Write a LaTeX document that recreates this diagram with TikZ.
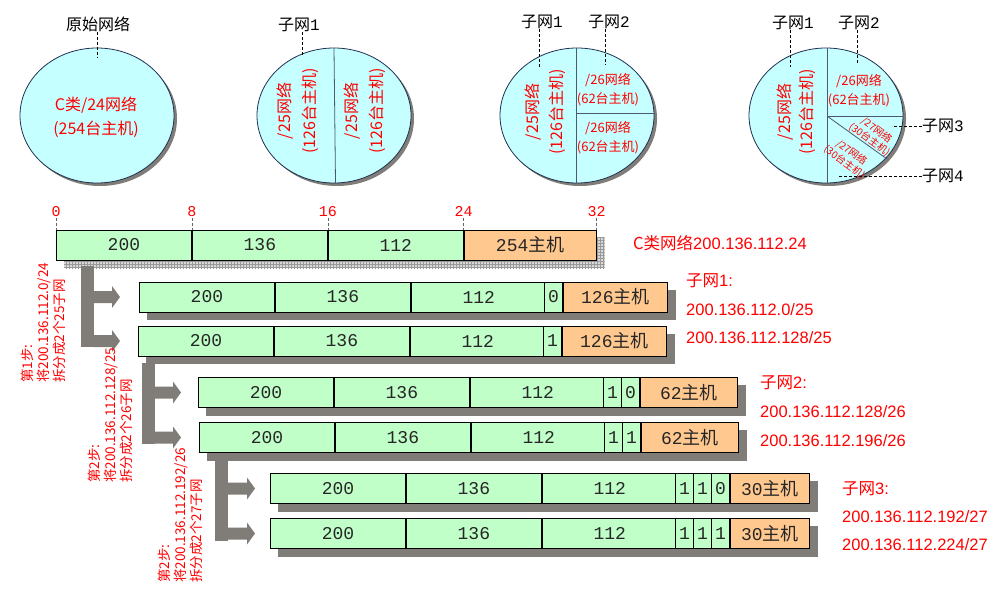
\documentclass[tikz,border=0pt]{standalone}
\usepackage{fontspec}
\setmainfont{Liberation Sans}
\newfontfamily\cjk{Noto Sans CJK SC}
\newfontfamily\mono{Liberation Mono}
\usetikzlibrary{positioning,calc,patterns,backgrounds}

\definecolor{bargreen}{RGB}{192,255,200}
\definecolor{hostorange}{RGB}{255,200,142}
\definecolor{shadowgray}{RGB}{128,124,120}
\definecolor{netcyan}{RGB}{198,255,255}
\definecolor{rimblue}{RGB}{30,48,80}
\definecolor{labred}{RGB}{255,0,0}

\tikzset{
  oct/.style={draw, line width=0.9pt, fill=bargreen, minimum width=135pt, minimum height=30pt,
    inner sep=0pt, anchor=west, text=black!85, font=\mono\fontsize{18}{18}\selectfont},
  bit/.style={oct, minimum width=18pt},
  hostcell/.style={oct, fill=hostorange},
  tick/.style={text=labred, inner sep=1pt, font=\mono\fontsize{15}{15}\selectfont},
  note/.style={text=labred, anchor=west, inner sep=0pt, font=\fontsize{16.5}{16.5}\selectfont},
  steplab/.style={text=labred, rotate=90, anchor=north west, align=left, inner sep=0pt,
    font=\cjk\fontsize{13.5}{16}\selectfont},
  net/.style={draw=rimblue, line width=0.8pt, fill=netcyan},
  divider/.style={draw=rimblue!80, line width=0.8pt},
  intext/.style={text=labred, align=center, inner sep=0pt, font=\cjk\fontsize{16}{24}\selectfont},
  smalltext/.style={intext, font=\cjk\fontsize{13}{19}\selectfont},
  tinytext/.style={intext, font=\cjk\fontsize{10}{12}\selectfont},
  toplab/.style={inner sep=0pt, font=\cjk\fontsize{16}{16}\selectfont},
  lead/.style={dash pattern=on 3pt off 2pt, line width=0.6pt},
  tickline/.style={lead, black!60},
}

\begin{document}
\begin{tikzpicture}[x=1pt, y=-1pt]
    \useasboundingbox (0,0) rectangle (998,591);

    % Networks drawn as ellipses
    \foreach \cx in {97,334,577,826} {
        \fill[shadowgray] (\cx+3,118.5) ellipse [x radius=77pt, y radius=67.5pt];
        \draw[net] (\cx,115.5) ellipse [x radius=77pt, y radius=67.5pt];
    }
    \draw[divider] (334,48) -- (335.5,183);
    \draw[divider] (576,48) -- (576,183);
    \draw[divider] (576,113) -- (653.5,113);
    \draw[divider] (827,48) -- (827,183);
    \draw[divider] (827,116) -- (903,116);
    \draw[divider] (827,116) -- (887,159);

    % Texts inside the ellipses
    \node[intext] (c1) at (96,117) {C类/24网络\\(254台主机)};
    \node[intext, rotate=90, font=\cjk\fontsize{16}{25}\selectfont] (c2a) at (297.5,111) {/25网络\\(126台主机)};
    \node[intext, rotate=90, font=\cjk\fontsize{16}{25}\selectfont] (c2b) at (364.5,111) {/25网络\\(126台主机)};
    \node[intext, rotate=90] (c3a) at (545,112) {/25网络\\(126台主机)};
    \node[smalltext] (c3b) at (608,90) {/26网络\\(62台主机)};
    \node[smalltext] (c3c) at (608,138) {/26网络\\(62台主机)};
    \node[intext, rotate=90, font=\cjk\fontsize{16}{22}\selectfont] (c4a) at (796,112) {/25网络\\(126台主机)};
    \node[smalltext] (c4b) at (859,90.5) {/26网络\\(62台主机)};
    \node[tinytext, rotate=-36] (c4c) at (873,135) {/27网络\\(30台主机)};
    \node[tinytext, rotate=-36] (c4d) at (848,157.5) {/27网络\\(30台主机)};

    % Labels above the ellipses
    \node[toplab] (orig) at (98,24) {原始网络};
    \node[toplab] (sub21) at (299,25) {子网{\mono 1}};
    \node[toplab] (sub31) at (542,22) {子网{\mono 1}};
    \node[toplab] (sub32) at (609,22) {子网{\mono 2}};
    \node[toplab] (sub41) at (793,23) {子网{\mono 1}};
    \node[toplab] (sub42) at (859,23) {子网{\mono 2}};
    \node[toplab, anchor=west] (sub43) at (922,126) {子网{\mono 3}};
    \node[toplab, anchor=west] (sub44) at (922,176) {子网{\mono 4}};
    \coordinate (origend) at (97,58);
    \coordinate (sub21end) at (302,57);
    \coordinate (sub31end) at (539,67);
    \coordinate (sub32end) at (605,65);
    \coordinate (sub41end) at (790,67);
    \coordinate (sub42end) at (857,65);
    \coordinate (sub43end) at (892,126);
    \coordinate (sub44end) at (838,176);
    \foreach \l in {orig,sub21,sub31,sub32,sub41,sub42}
        \draw[lead] (\l.south -| \l end) -- (\l end);
    \draw[lead] (sub43.west) -- (sub43end);
    \draw[lead] (sub44.west) -- (sub44end);

    % Class C address
    \node[oct] (r0-1) at (56,245) {200};
    \node[oct, right=0pt of r0-1] (r0-2) {136};
    \node[oct, right=0pt of r0-2] (r0-3) {112};
    \node[hostcell, minimum width=132pt, right=0pt of r0-3] (r0-h) {254{\cjk 主机}};
    \foreach \t/\a in {0/r0-1.north west, 8/r0-2.north west, 16/r0-3.north west,
                       24/r0-h.north west, 32/r0-h.north east} {
        \node[tick, above=12pt of \a] (t\t) {\t};
        \draw[tickline] (t\t.south) -- (\a);
    }
    \node[note] (n0) at (633,243) {{\cjk C类网络}200.136.112.24};

    % Subnet addresses
    \foreach \r/\x/\y/\bits/\nb/\hn/\hw in {1/139/297/0/1/126/104, 2/138/341/1/1/126/104,
                                            3/198/392.5/{1,0}/2/62/97, 4/199/437.5/{1,1}/2/62/97,
                                            5/270/488.5/{1,1,0}/3/30/79, 6/270/533.5/{1,1,1}/3/30/79} {
        \node[oct] (r\r-1) at (\x,\y) {200};
        \node[oct, right=0pt of r\r-1] (r\r-2) {136};
        \node[oct, right=0pt of r\r-2] (r\r-3) {112};
        \foreach \b [count=\i] in \bits
            \node[bit] (r\r-b\i) at (\x+405+18*\i-18,\y) {\b};
        \node[hostcell, minimum width=\hw pt, right=0pt of r\r-b\nb] (r\r-h) {\hn{\cjk 主机}};
    }

    % Shadows of the address bars
    \begin{scope}[on background layer]
        \fill[white] (0,0) rectangle (998,591);
        \fill[gray!30] ($(r0-1.north west)+(8,8)$) rectangle ($(r0-h.south east)+(8,8)$);
        \fill[pattern=grid, pattern color=gray!80] ($(r0-1.north west)+(8,8)$) rectangle ($(r0-h.south east)+(8,8)$);
        \foreach \r in {1,...,6}
            \fill[shadowgray] ($(r\r-1.north west)+(8,8)$) rectangle ($(r\r-h.south east)+(8,8)$);
    \end{scope}

    % Split arrows
    \foreach \bx/\ytop/\ybot/\ya/\yb/\tip in {81/266/347/297/341/120, 142/363/444/392.5/437.5/181,
                                              215/458/541/488.5/533.5/255} {
        \fill[shadowgray] (\bx,\ytop) rectangle (\bx+13,\ybot);
        \foreach \ay in {\ya,\yb}
            \fill[shadowgray] (\bx+13,\ay-6) -- (\tip-8,\ay-6) -- (\tip-8,\ay-11) -- (\tip,\ay)
                -- (\tip-8,\ay+11) -- (\tip-8,\ay+6) -- (\bx+13,\ay+6) -- cycle;
    }

    % Step notes
    \node[steplab] (st1) at (21,383) {第1步:\\将200.136.112.0/24\\拆分成2个25子网};
    \node[steplab] (st2) at (88,483) {第2步:\\将200.136.112.128/25\\拆分成2个26子网};
    \node[steplab] (st3) at (158,583) {第2步:\\将200.136.112.192/26\\拆分成2个27子网};

    % Subnet notes
    \node[note] (n1) at (686,281) {{\cjk 子网}1:};
    \node[note] (n1a) at (686,310) {200.136.112.0/25};
    \node[note] (n1b) at (686,338) {200.136.112.128/25};
    \node[note] (n2) at (760,383) {{\cjk 子网}2:};
    \node[note] (n2a) at (760,412) {200.136.112.128/26};
    \node[note] (n2b) at (760,441) {200.136.112.196/26};
    \node[note] (n3) at (842,489) {{\cjk 子网}3:};
    \node[note] (n3a) at (842,517) {200.136.112.192/27};
    \node[note] (n3b) at (842,545) {200.136.112.224/27};
\end{tikzpicture}
\end{document}
